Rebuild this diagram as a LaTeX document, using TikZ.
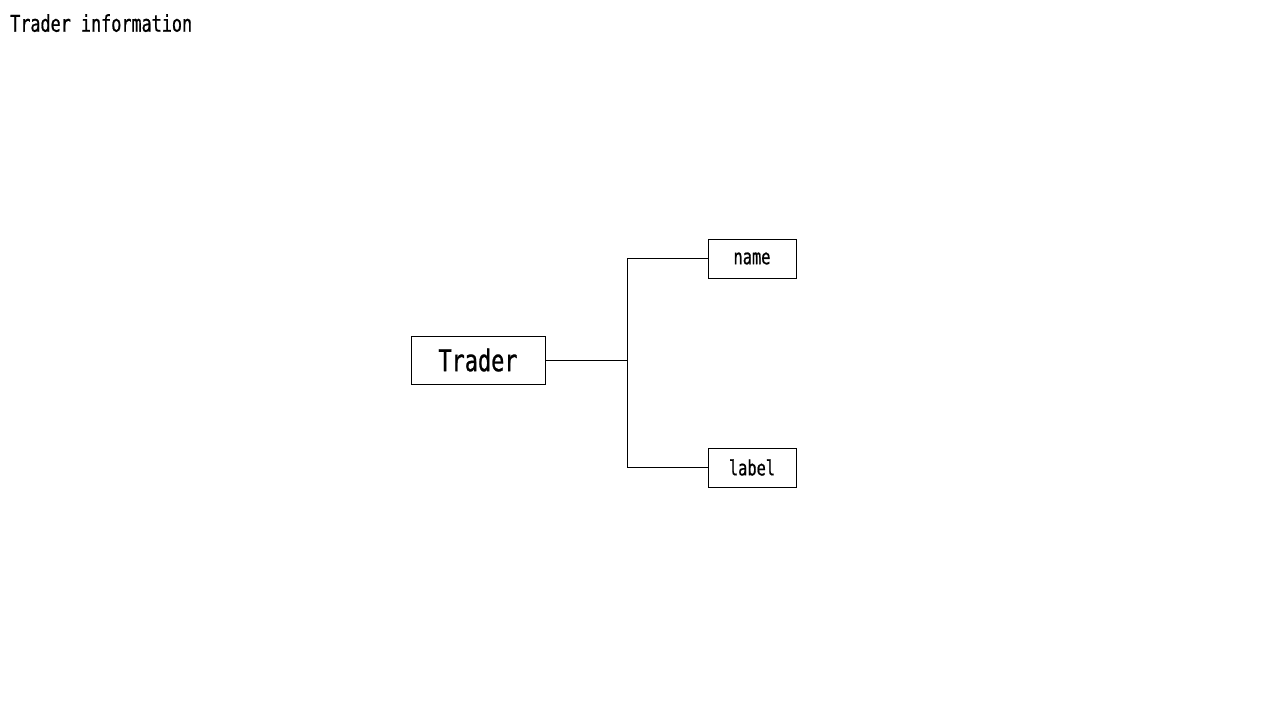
\documentclass[tikz,border=0pt]{standalone}
\usepackage{fontspec}
\newfontfamily\diagfont[FakeStretch=0.73,FakeBold=0.8]{DejaVu Sans Mono}
\begin{document}
\begin{tikzpicture}[x=1pt,y=-1pt,
  box/.style={draw=black,line width=1pt,fill=white,inner sep=0pt,font=\diagfont},
  conn/.style={draw=black,line width=1pt}]
\useasboundingbox (0,0) rectangle (1280,720);
\node[anchor=north west,inner sep=0pt,font=\diagfont\fontsize{23}{26}\selectfont] (title) at (10,14) {Trader information};
\node[box,minimum width=134pt,minimum height=48pt,font=\diagfont\fontsize{30}{34}\selectfont] (trader) at (478,360) {Trader};
\node[box,minimum width=88pt,minimum height=39pt,font=\diagfont\fontsize{21}{24}\selectfont] (name) at (752,258.5) {name};
\node[box,minimum width=88pt,minimum height=39pt,font=\diagfont\fontsize{21}{24}\selectfont] (label) at (752,467.5) {label};
\coordinate (br) at (627,360);
\draw[conn] (trader.east) -- (br);
\draw[conn] (br) |- (name.west);
\draw[conn] (br) |- (label.west);
\end{tikzpicture}
\end{document}
